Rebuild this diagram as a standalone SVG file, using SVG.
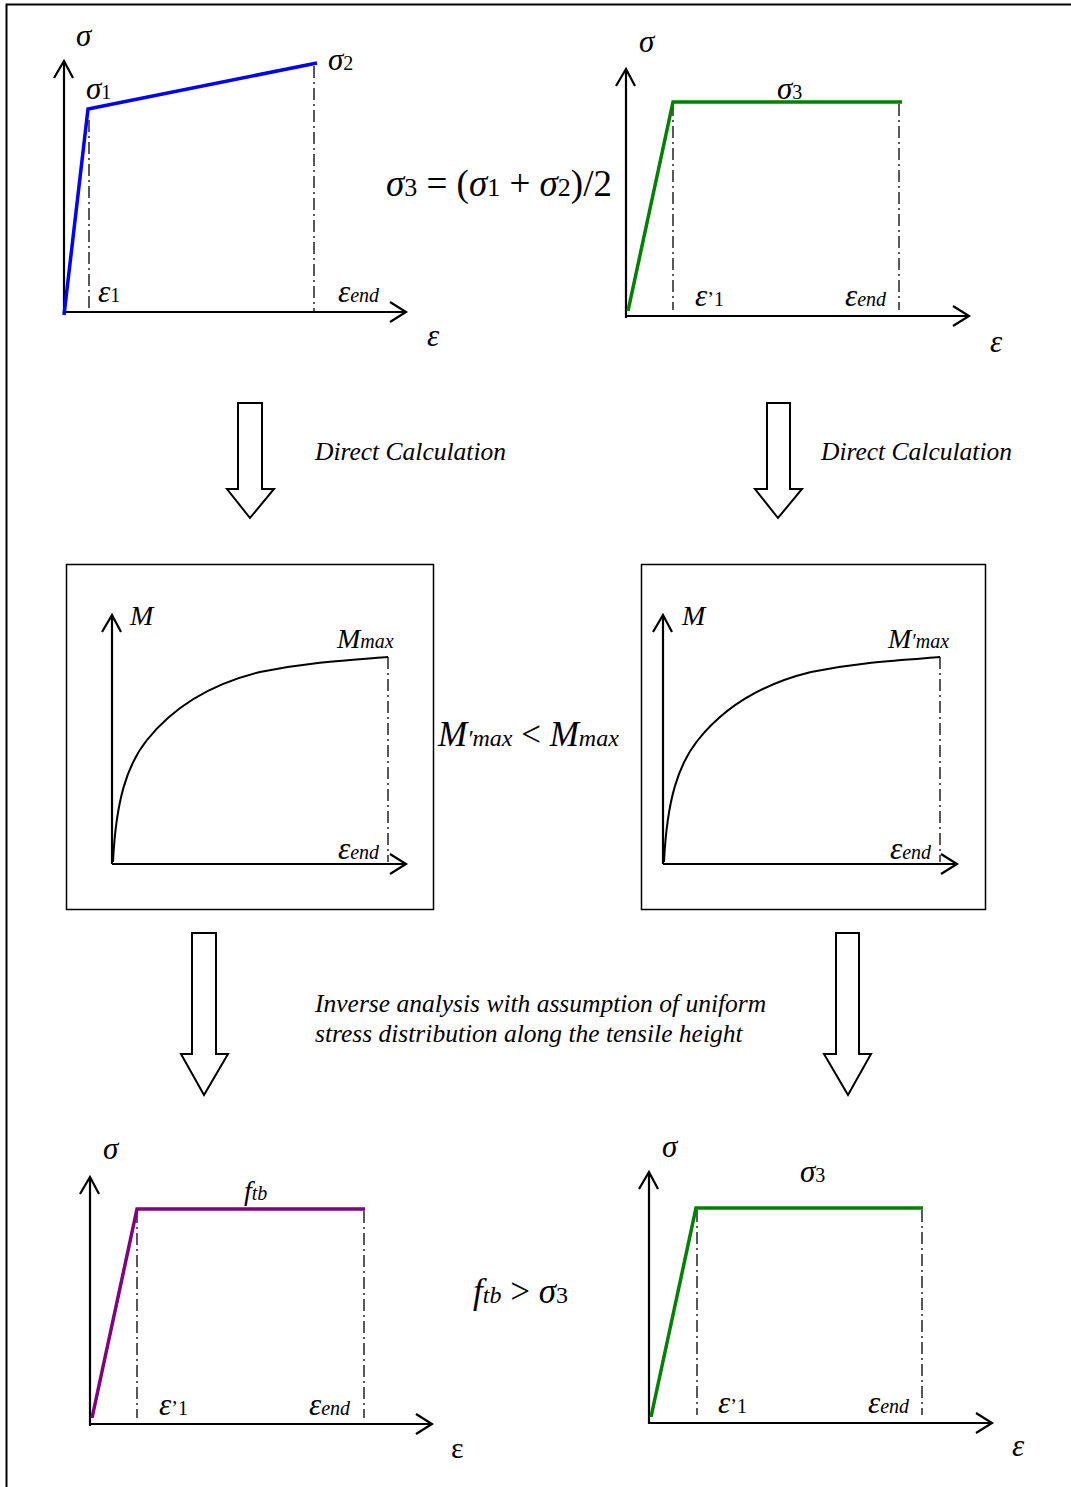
<svg xmlns="http://www.w3.org/2000/svg" width="1071" height="1487" viewBox="0 0 1071 1487" font-family="'Liberation Serif', 'DejaVu Serif', serif">
<style>
text{font-family:'Liberation Serif','DejaVu Serif',serif;fill:#000}
.it{font-style:italic}
.lab{font-size:28px;font-style:italic}
.g{font-size:31px}
.sub{font-size:20px}
.axis{fill:none;stroke:#000;stroke-width:2.2}
.dd{fill:none;stroke:#000;stroke-width:1.3;stroke-dasharray:12 4 2 4}
.curve{fill:none;stroke:#000;stroke-width:2}
.blk{fill:#fff;stroke:#000;stroke-width:2}
.note{font-size:25.5px;font-style:italic}
.big{font-size:37px}
</style>
<rect x="6.5" y="4.5" width="1100" height="1500" fill="none" stroke="#000" stroke-width="2"/>

<g id="chart-top-left">
  <path class="axis" d="M64,313 V61 M54,78 L64,61 L73,78 M64,312 H406 M390,302 L406,312 L390,322"/>
  <path class="dd" d="M89,120 V312 M314,66 V312"/>
  <path d="M64,315 L88,109 L317,63" fill="none" stroke="#0000FF" stroke-width="3.5"/>
  <text class="lab g" x="76" y="46">σ</text>
  <text class="lab g" x="86" y="99">σ<tspan class="sub" font-style="normal">1</tspan></text>
  <text class="lab g" x="328" y="70">σ<tspan class="sub" font-style="normal">2</tspan></text>
  <text class="lab g" x="98" y="302">ε<tspan class="sub" font-style="normal">1</tspan></text>
  <text class="lab g" x="338" y="302">ε<tspan class="sub">end</tspan></text>
  <text class="lab g" x="427" y="346">ε</text>
</g>

<g id="chart-top-right">
  <path class="axis" d="M626,318 V69 M616,86 L626,69 L635,86 M626,316 H969 M953,306 L969,316 L953,326"/>
  <path class="dd" d="M673,104 V310 M899,104 V310"/>
  <path d="M628,311 L673,102 L902,102" fill="none" stroke="#008000" stroke-width="3.5"/>
  <text class="lab g" x="639" y="52">σ</text>
  <text class="lab g" x="777" y="99">σ<tspan class="sub" font-style="normal">3</tspan></text>
  <text class="lab g" x="695" y="306">ε<tspan class="sub" font-style="normal">’1</tspan></text>
  <text class="lab g" x="845" y="306">ε<tspan class="sub">end</tspan></text>
  <text class="lab g" x="990" y="352">ε</text>
</g>

<g id="formula-sigma3">
  <text class="big" x="386" y="196"><tspan class="it">σ</tspan><tspan font-size="26">3</tspan> = (<tspan class="it">σ</tspan><tspan font-size="26">1</tspan> + <tspan class="it">σ</tspan><tspan font-size="26">2</tspan>)/2</text>
</g>

<g id="connectors">
  <path class="blk" d="M238,403 H262 V489 H274 L250,518 L227,489 H238 Z"/>
  <path class="blk" d="M767,403 H790 V489 H802 L778,518 L755,489 H767 Z"/>
  <path class="blk" d="M192,933 H216 V1054 H228 L204,1095 L181,1054 H192 Z"/>
  <path class="blk" d="M836,933 H859 V1054 H871 L848,1095 L824,1054 H836 Z"/>
</g>

<g id="label-direct-left"><text class="note" x="315" y="460">Direct Calculation</text></g>
<g id="label-direct-right"><text class="note" x="821" y="460">Direct Calculation</text></g>

<g id="box-M-left">
  <rect x="66.5" y="564.5" width="367" height="345" fill="none" stroke="#000" stroke-width="1.5"/>
  <path class="axis" d="M112,864 V615 M102,632 L112,615 L121,632 M112,864 H406 M390,854 L406,864 L390,874"/>
  <path class="dd" d="M388,657 V862"/>
  <path class="curve" d="M113,862 C116,800 127,765 147,740 C175,705 215,683 260,672 C310,662 350,660 388,657"/>
  <text class="lab" x="130" y="625">M</text>
  <text class="lab" x="337" y="648">M<tspan class="sub">max</tspan></text>
  <text class="lab g" x="338" y="859">ε<tspan class="sub">end</tspan></text>
</g>

<g id="compare-M">
  <text class="it" font-size="35" x="438" y="746">M<tspan font-size="24">′max</tspan> <tspan font-style="normal">&lt;</tspan> M<tspan font-size="24">max</tspan></text>
</g>

<g id="box-M-right">
  <rect x="641.5" y="564.5" width="344" height="345" fill="none" stroke="#000" stroke-width="1.5"/>
  <path class="axis" d="M663,864 V615 M653,632 L663,615 L672,632 M663,864 H957 M941,854 L957,864 L941,874"/>
  <path class="dd" d="M940,657 V862"/>
  <path class="curve" d="M664,862 C667,800 678,765 698,740 C726,705 766,683 811,672 C861,662 901,660 940,657"/>
  <text class="lab" x="682" y="625">M</text>
  <text class="lab" x="888" y="648">M<tspan class="sub">′max</tspan></text>
  <text class="lab g" x="890" y="859">ε<tspan class="sub">end</tspan></text>
</g>

<g id="label-inverse">
  <text class="note" x="315" y="1012">Inverse analysis with assumption of uniform</text>
  <text class="note" x="315" y="1042">stress distribution along the tensile height</text>
</g>

<g id="chart-bottom-left">
  <path class="axis" d="M90,1426 V1177 M80,1194 L90,1177 L99,1194 M90,1424 H432 M416,1414 L432,1424 L416,1434"/>
  <path class="dd" d="M137,1211 V1418 M364,1211 V1418"/>
  <path d="M92,1418 L137,1209 L365,1209" fill="none" stroke="#800080" stroke-width="3.5"/>
  <text class="lab g" x="103" y="1159">σ</text>
  <text class="lab" x="244" y="1200">f<tspan class="sub">tb</tspan></text>
  <text class="lab g" x="159" y="1415">ε<tspan class="sub" font-style="normal">’1</tspan></text>
  <text class="lab g" x="309" y="1415">ε<tspan class="sub">end</tspan></text>
  <text x="451" y="1458" font-size="30">ε</text>
</g>

<g id="compare-f">
  <text font-size="35" x="473" y="1303"><tspan class="it">f</tspan><tspan class="it" font-size="24">tb</tspan> &gt; <tspan class="it">σ</tspan><tspan font-size="24">3</tspan></text>
</g>

<g id="chart-bottom-right">
  <path class="axis" d="M649,1424 V1172 M639,1189 L649,1172 L658,1189 M649,1423 H992 M976,1413 L992,1423 L976,1433"/>
  <path class="dd" d="M697,1210 V1415 M922,1210 V1415"/>
  <path d="M651,1417 L696,1208 L923,1208" fill="none" stroke="#008000" stroke-width="3.5"/>
  <text class="lab g" x="662" y="1157">σ</text>
  <text class="lab g" x="800" y="1182">σ<tspan class="sub" font-style="normal">3</tspan></text>
  <text class="lab g" x="718" y="1413">ε<tspan class="sub" font-style="normal">’1</tspan></text>
  <text class="lab g" x="868" y="1413">ε<tspan class="sub">end</tspan></text>
  <text class="lab g" x="1012" y="1456">ε</text>
</g>
</svg>
